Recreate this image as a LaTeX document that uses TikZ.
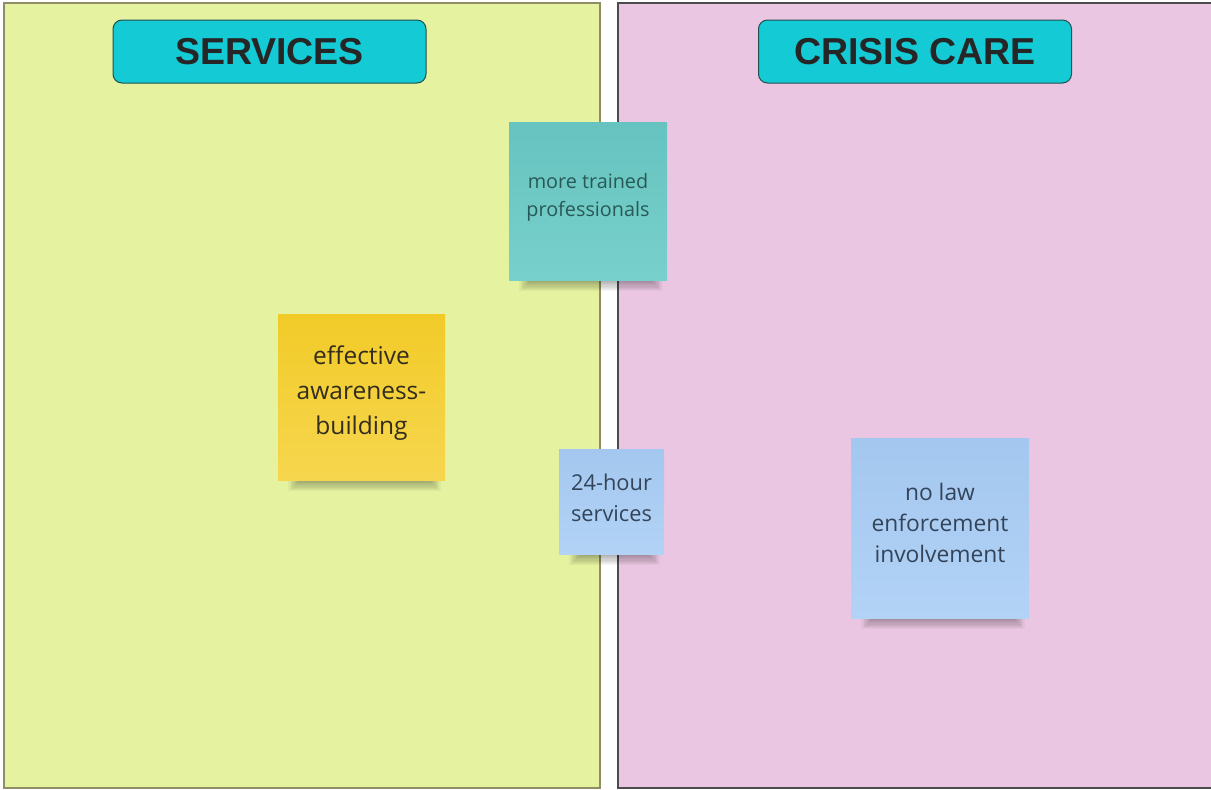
\documentclass[tikz,border=0pt]{standalone}
\usepackage{fontspec}
\setmainfont{Open Sans}
\newfontfamily\titlefont{Liberation Sans}
\definecolor{panelgreen}{HTML}{E5F2A0}
\definecolor{panelpink}{HTML}{EBC6E2}
\definecolor{titlecyan}{HTML}{13CAD5}
\definecolor{titleedge}{HTML}{234E4E}
\definecolor{tealtop}{HTML}{66C3BF}
\definecolor{tealbot}{HTML}{78D0CC}
\definecolor{yellowtop}{HTML}{F2CB28}
\definecolor{yellowbot}{HTML}{F6D64E}
\definecolor{bluetop}{HTML}{A4C7EF}
\definecolor{bluebot}{HTML}{B2D3F6}
\definecolor{tealtext}{HTML}{285957}
\definecolor{yellowtext}{HTML}{332D1E}
\definecolor{bluetext}{HTML}{33445A}
\tikzset{
  panel/.style={draw=#1, line width=1.2pt},
  titlebox/.style={draw=titleedge, line width=1pt, fill=titlecyan, rounded corners=9pt,
    font=\titlefont\bfseries\fontsize{37.5}{40}\selectfont, text=black!85, inner sep=0pt},
  note/.style={inner sep=0pt, align=center},
}
\newcommand{\noteshadow}[3]{% x1, x2, ybottom
  \foreach \k in {0,...,9}{
    \fill[black, opacity=0.035]
      ({#1+22-\k*1.3},{#3-4}) rectangle ({#2-16+\k*1.3},{#3+1+\k*1.1});
  }
}
\begin{document}
\begin{tikzpicture}[x=1pt,y=-1pt]
\useasboundingbox (0,0) rectangle (1211,790);
% panels
\fill[white] (0,0) rectangle (1211,790);
\draw[panel=gray!70!olive, fill=panelgreen] (4,3) rectangle (600,788);
\draw[panel=black!70, fill=panelpink] (618,3) rectangle (1215,788);
% titles
\node[titlebox, minimum width=313pt, minimum height=63pt] (tservices) at (269.5,51.5) {SERVICES};
\node[titlebox, minimum width=313pt, minimum height=63pt] (tcrisis) at (915,51.5) {CRISIS CARE};
% shadows
\noteshadow{509}{667}{280}
\noteshadow{278}{445}{480}
\noteshadow{559}{664}{554}
\noteshadow{851}{1029}{618}
% notes
\shade[top color=tealtop, bottom color=tealbot] (509,122) rectangle (667,280);
\node[note, text=tealtext, font=\fontsize{19.8}{28}\selectfont] (n1) at (588,197) {more trained\\professionals};
\shade[top color=yellowtop, bottom color=yellowbot] (278,314) rectangle (445,480);
\node[note, text=yellowtext, font=\fontsize{24.5}{35}\selectfont] (n2) at (361.5,393) {effective\\awareness-\\building};
\shade[top color=bluetop, bottom color=bluebot] (559,449) rectangle (664,554);
\node[note, text=bluetext, font=\fontsize{21.8}{31}\selectfont] (n3) at (611.5,498) {24-hour\\services};
\shade[top color=bluetop, bottom color=bluebot] (851,438) rectangle (1029,618);
\node[note, text=bluetext, font=\fontsize{22.8}{31}\selectfont] (n4) at (940,523) {no law\\enforcement\\involvement};
\end{tikzpicture}
\end{document}
